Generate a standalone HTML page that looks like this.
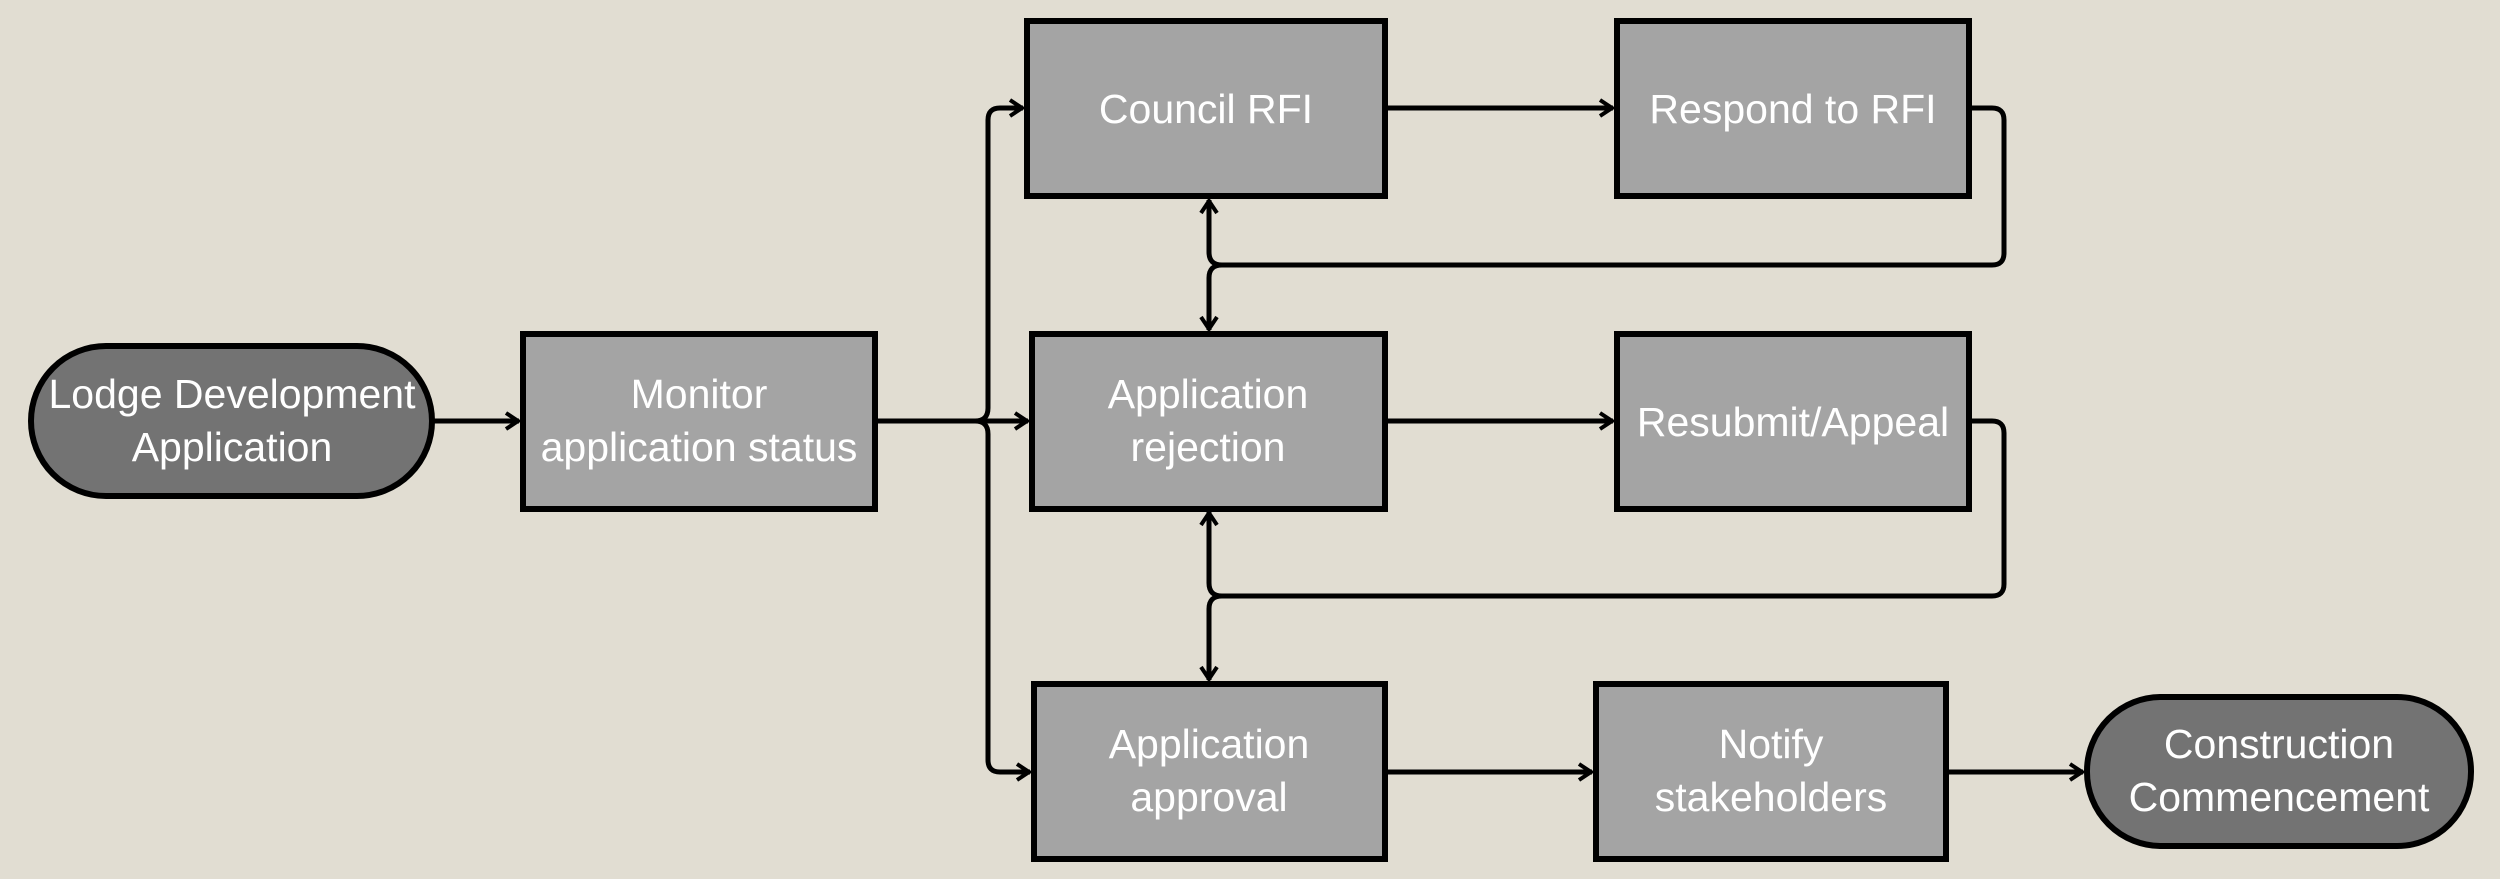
<!DOCTYPE html>
<html><head><meta charset="utf-8"><style>
html,body{margin:0;padding:0;background:#e1ddd2;}
svg{display:block}
text{font-family:"Liberation Sans","DejaVu Sans",sans-serif;font-size:41px;fill:#fff;text-anchor:middle;}
</style></head><body>
<svg width="2500" height="879" viewBox="0 0 2500 879" xmlns="http://www.w3.org/2000/svg">
<defs>
<marker id="a" viewBox="0 0 16 20" refX="15" refY="10" markerWidth="16" markerHeight="20" markerUnits="userSpaceOnUse" orient="auto-start-reverse">
<path d="M2,2 L14,10 L2,18" fill="none" stroke="#000" stroke-width="4"/>
</marker>
</defs>
<rect width="2500" height="879" fill="#e1ddd2"/>
<g fill="none" stroke="#000" stroke-width="5">
<path d="M434,421 H519" marker-end="url(#a)"/>
<path d="M877,421 H1028" marker-end="url(#a)"/>
<path d="M975,421 Q988,421 988,408 V120 Q988,108 1000,108 H1023" marker-end="url(#a)"/>
<path d="M975,421 Q988,421 988,434 V760 Q988,772 1000,772 H1030" marker-end="url(#a)"/>
<path d="M1387,108 H1613" marker-end="url(#a)"/>
<path d="M1971,108 H1992 Q2004,108 2004,120 V253 Q2004,265 1992,265 H1222 Q1209,265 1209,252 V200" marker-end="url(#a)"/>
<path d="M1222,265 Q1209,265 1209,278 V330" marker-end="url(#a)"/>
<path d="M1387,421 H1613" marker-end="url(#a)"/>
<path d="M1971,421 H1992 Q2004,421 2004,433 V584 Q2004,596 1992,596 H1222 Q1209,596 1209,583 V512" marker-end="url(#a)"/>
<path d="M1222,596 Q1209,596 1209,609 V680" marker-end="url(#a)"/>
<path d="M1387,772 H1592" marker-end="url(#a)"/>
<path d="M1948,772 H2083" marker-end="url(#a)"/>
</g>
<g stroke="#000" stroke-width="6">
<rect x="31" y="346" width="401" height="150" rx="75" fill="#737373"/>
<rect x="523" y="334" width="352" height="175" fill="#a4a4a4"/>
<rect x="1027" y="21" width="358" height="175" fill="#a4a4a4"/>
<rect x="1617" y="21" width="352" height="175" fill="#a4a4a4"/>
<rect x="1032" y="334" width="353" height="175" fill="#a4a4a4"/>
<rect x="1617" y="334" width="352" height="175" fill="#a4a4a4"/>
<rect x="1034" y="684" width="351" height="175" fill="#a4a4a4"/>
<rect x="1596" y="684" width="350" height="175" fill="#a4a4a4"/>
<rect x="2087" y="697" width="384" height="149" rx="74" fill="#737373"/>
</g>
<text x="232" y="408">Lodge Development</text>
<text x="232" y="461">Application</text>
<text x="699" y="408">Monitor</text>
<text x="699" y="461">application status</text>
<text x="1206" y="123">Council RFI</text>
<text x="1793" y="123">Respond to RFI</text>
<text x="1208" y="408">Application</text>
<text x="1208" y="461">rejection</text>
<text x="1793" y="436">Resubmit/Appeal</text>
<text x="1209" y="758">Application</text>
<text x="1209" y="811">approval</text>
<text x="1771" y="758">Notify</text>
<text x="1771" y="811">stakeholders</text>
<text x="2279" y="758">Construction</text>
<text x="2279" y="811">Commencement</text>
</svg>
</body></html>
